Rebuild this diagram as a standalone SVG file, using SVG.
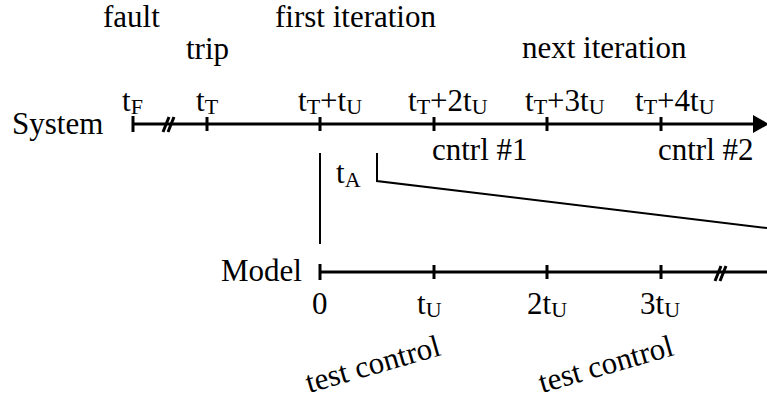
<svg xmlns="http://www.w3.org/2000/svg" width="767" height="400" viewBox="0 0 767 400">
<style>
text{font-family:"Liberation Serif","Times New Roman",serif;font-size:31px;fill:#000}
.s{font-size:22px}
.ax{stroke:#000;stroke-width:3;fill:none}
.tk{stroke:#000;stroke-width:3}
.ln{stroke:#000;stroke-width:2;fill:none}
</style>
<rect width="767" height="400" fill="#fff"/>
<g id="phase-labels">
<text x="103" y="27">fault</text>
<text x="186" y="59">trip</text>
<text x="275" y="27">first iteration</text>
<text x="522" y="58">next iteration</text>
</g>
<g id="system-axis">
<text x="12" y="134">System</text>
<line class="ax" x1="133" y1="124" x2="756" y2="124"/>
<polygon points="753,115 769,124 753,133" fill="#000"/>
<line class="tk" x1="133" y1="116" x2="133" y2="132"/>
<line class="tk" x1="207" y1="117" x2="207" y2="131"/>
<line class="tk" x1="320" y1="117" x2="320" y2="131"/>
<line class="tk" x1="434" y1="117" x2="434" y2="131"/>
<line class="tk" x1="547" y1="117" x2="547" y2="131"/>
<line class="tk" x1="661" y1="117" x2="661" y2="131"/>
<line class="tk" stroke-width="2.5" x1="163" y1="132" x2="169" y2="117"/>
<line class="tk" stroke-width="2.5" x1="168" y1="132" x2="174" y2="117"/>
<text x="122" y="111">t<tspan class="s" dy="3">F</tspan></text>
<text x="196" y="111">t<tspan class="s" dy="3">T</tspan></text>
<text x="298" y="111">t<tspan class="s" dy="3">T</tspan><tspan dy="-3">+t</tspan><tspan class="s" dy="3">U</tspan></text>
<text x="408" y="111">t<tspan class="s" dy="3">T</tspan><tspan dy="-3">+2t</tspan><tspan class="s" dy="3">U</tspan></text>
<text x="525" y="111">t<tspan class="s" dy="3">T</tspan><tspan dy="-3">+3t</tspan><tspan class="s" dy="3">U</tspan></text>
<text x="635" y="111">t<tspan class="s" dy="3">T</tspan><tspan dy="-3">+4t</tspan><tspan class="s" dy="3">U</tspan></text>
<text x="432" y="160">cntrl #1</text>
<text x="658" y="160">cntrl #2</text>
</g>
<g id="model-axis">
<text x="221" y="281">Model</text>
<line class="ax" x1="320" y1="272" x2="767" y2="272"/>
<line class="tk" x1="320" y1="264" x2="320" y2="280"/>
<line class="tk" x1="434" y1="265" x2="434" y2="279"/>
<line class="tk" x1="547" y1="265" x2="547" y2="279"/>
<line class="tk" x1="661" y1="265" x2="661" y2="279"/>
<line class="tk" stroke-width="2.5" x1="715" y1="281" x2="721" y2="266"/>
<line class="tk" stroke-width="2.5" x1="720" y1="281" x2="726" y2="266"/>
<text x="312" y="314">0</text>
<text x="417" y="314">t<tspan class="s" dy="3">U</tspan></text>
<text x="527" y="314">2t<tspan class="s" dy="3">U</tspan></text>
<text x="640" y="314">3t<tspan class="s" dy="3">U</tspan></text>
<text transform="translate(309,393) rotate(-16)">test control</text>
<text transform="translate(542,393) rotate(-16)">test control</text>
</g>
<g id="connectors">
<line class="ln" x1="320" y1="153" x2="320" y2="244"/>
<polyline class="ln" points="377,153 377,181 767,228"/>
<text x="336" y="183">t<tspan class="s" dy="4">A</tspan></text>
</g>
</svg>
